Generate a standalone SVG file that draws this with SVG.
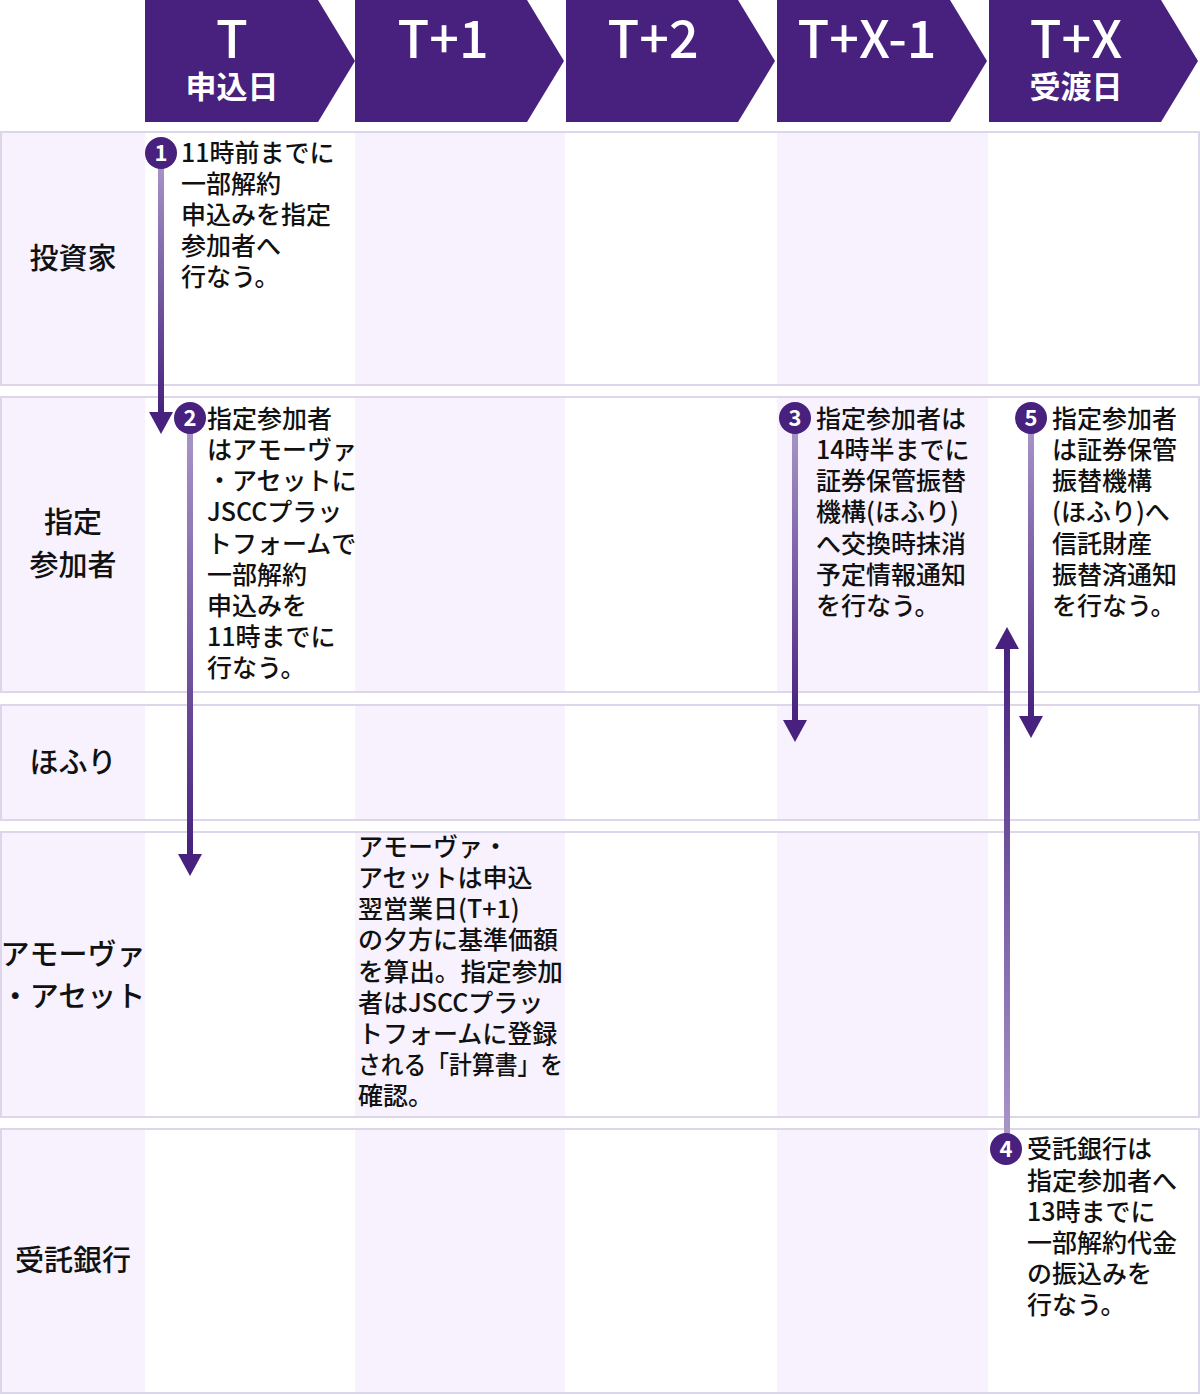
<svg xmlns="http://www.w3.org/2000/svg" width="1200" height="1395" viewBox="0 0 1200 1395">
<style>
text{font-family:"Noto Sans CJK JP","Noto Sans",sans-serif;fill:#111}
.hd{fill:#47217d}
.ht{fill:#fff;font-size:52px;text-anchor:middle;font-weight:500}
.hs{fill:#fff;font-size:31px;text-anchor:middle;font-weight:bold}
.row{fill:none;stroke:#ddd6ea;stroke-width:2}
.lab{fill:#f7f2fd}
.lt{font-size:29px;text-anchor:middle;font-weight:500}
.t{font-size:25px;font-weight:500}
.num{fill:#fff;font-size:22px;font-weight:bold;text-anchor:middle}
</style>
<defs>
<linearGradient id="gd" x1="0" y1="0" x2="0" y2="1"><stop offset="0" stop-color="#a896c8"/><stop offset="1" stop-color="#47217d"/></linearGradient>
<linearGradient id="gu" x1="0" y1="1" x2="0" y2="0"><stop offset="0" stop-color="#a896c8"/><stop offset="1" stop-color="#47217d"/></linearGradient>
</defs>
<g id="bands">
<rect x="0" y="132" width="145" height="1262" class="lab"/>
<rect x="355" y="132" width="210" height="1262" fill="#f7f2fd"/>
<rect x="777" y="132" width="211" height="1262" fill="#f7f2fd"/>
<rect x="0" y="386" width="1200" height="11" fill="#fff"/>
<rect x="0" y="693" width="1200" height="11" fill="#fff"/>
<rect x="0" y="821" width="1200" height="11" fill="#fff"/>
<rect x="0" y="1118" width="1200" height="11" fill="#fff"/>
<rect x="1" y="132" width="1198" height="253" class="row"/>
<rect x="1" y="397" width="1198" height="295" class="row"/>
<rect x="1" y="705" width="1198" height="115" class="row"/>
<rect x="1" y="832" width="1198" height="285" class="row"/>
<rect x="1" y="1129" width="1198" height="264" class="row"/>
</g>
<g id="header">
<polygon class="hd" points="145,0 318,0 355,61 318,122 145,122"/>
<polygon class="hd" points="355,0 527,0 564,61 527,122 355,122"/>
<polygon class="hd" points="566,0 738,0 775,61 738,122 566,122"/>
<polygon class="hd" points="777,0 950,0 987,61 950,122 777,122"/>
<polygon class="hd" points="989,0 1161,0 1198,61 1161,122 989,122"/>
<text class="ht" x="232" y="58">T</text><text class="hs" x="232" y="98">申込日</text>
<text class="ht" x="443" y="58">T+1</text>
<text class="ht" x="653" y="58">T+2</text>
<text class="ht" x="867" y="58">T+X-1</text>
<text class="ht" x="1076" y="58">T+X</text><text class="hs" x="1076" y="98">受渡日</text>
</g>
<g id="labels">
<text class="lt" x="73" y="269">投資家</text>
<text class="lt" x="73" y="533">指定</text><text class="lt" x="73" y="576">参加者</text>
<text class="lt" x="73" y="773">ほふり</text>
<text class="lt" x="73" y="965">アモーヴァ</text><text class="lt" x="73" y="1007">・アセット</text>
<text class="lt" x="73" y="1271">受託銀行</text>
</g>
<g id="connectors">
<rect x="158" y="160" width="6" height="254" fill="url(#gd)"/><polygon points="149,412 173,412 161,434" fill="#47217d"/>
<rect x="187" y="426" width="6" height="430" fill="url(#gd)"/><polygon points="178,854 202,854 190,876" fill="#47217d"/>
<rect x="792" y="426" width="6" height="296" fill="url(#gd)"/><polygon points="783,720 807,720 795,742" fill="#47217d"/>
<rect x="1028" y="426" width="6" height="292" fill="url(#gd)"/><polygon points="1019,716 1043,716 1031,738" fill="#47217d"/>
<rect x="1004" y="647" width="6" height="490" fill="url(#gu)"/><polygon points="995,649 1019,649 1007,627" fill="#47217d"/>
</g>
<g id="n1"><circle cx="161" cy="153" r="16" fill="#47217d"/><text class="num" x="161" y="161">1</text>
<text class="t" x="181" y="162">11時前までに</text><text class="t" x="181" y="193">一部解約</text><text class="t" x="181" y="224">申込みを指定</text><text class="t" x="181" y="255">参加者へ</text><text class="t" x="181" y="286">行なう。</text></g>
<g id="n2"><circle cx="190" cy="418" r="16" fill="#47217d"/><text class="num" x="190" y="426">2</text>
<text class="t" x="207" y="428">指定参加者</text><text class="t" x="207" y="459">はアモーヴァ</text><text class="t" x="207" y="490">・アセットに</text><text class="t" x="207" y="521">JSCCプラッ</text><text class="t" x="207" y="553">トフォームで</text><text class="t" x="207" y="584">一部解約</text><text class="t" x="207" y="615">申込みを</text><text class="t" x="207" y="646">11時までに</text><text class="t" x="207" y="677">行なう。</text></g>
<g id="n3"><circle cx="795" cy="418" r="16" fill="#47217d"/><text class="num" x="795" y="426">3</text>
<text class="t" x="816" y="428">指定参加者は</text><text class="t" x="816" y="459">14時半までに</text><text class="t" x="816" y="490">証券保管振替</text><text class="t" x="816" y="521">機構(ほふり)</text><text class="t" x="816" y="553">へ交換時抹消</text><text class="t" x="816" y="584">予定情報通知</text><text class="t" x="816" y="615">を行なう。</text></g>
<g id="n5"><circle cx="1031" cy="418" r="16" fill="#47217d"/><text class="num" x="1031" y="426">5</text>
<text class="t" x="1052" y="428">指定参加者</text><text class="t" x="1052" y="459">は証券保管</text><text class="t" x="1052" y="490">振替機構</text><text class="t" x="1052" y="521">(ほふり)へ</text><text class="t" x="1052" y="553">信託財産</text><text class="t" x="1052" y="584">振替済通知</text><text class="t" x="1052" y="615">を行なう。</text></g>
<g id="n4"><circle cx="1006" cy="1149" r="16" fill="#47217d"/><text class="num" x="1006" y="1157">4</text>
<text class="t" x="1027" y="1158">受託銀行は</text><text class="t" x="1027" y="1190">指定参加者へ</text><text class="t" x="1027" y="1221">13時までに</text><text class="t" x="1027" y="1252">一部解約代金</text><text class="t" x="1027" y="1283">の振込みを</text><text class="t" x="1027" y="1314">行なう。</text></g>
<g id="amova">
<text class="t" x="358" y="856">アモーヴァ・</text><text class="t" x="358" y="887">アセットは申込</text><text class="t" x="358" y="918">翌営業日(T+1)</text><text class="t" x="358" y="949">の夕方に基準価額</text><text class="t" x="358" y="981" textLength="205" lengthAdjust="spacingAndGlyphs">を算出。指定参加</text><text class="t" x="358" y="1012">者はJSCCプラッ</text><text class="t" x="358" y="1043">トフォームに登録</text><text class="t" x="358" y="1074" textLength="205" lengthAdjust="spacingAndGlyphs">される「計算書」を</text><text class="t" x="358" y="1105">確認。</text>
</g>
</svg>
